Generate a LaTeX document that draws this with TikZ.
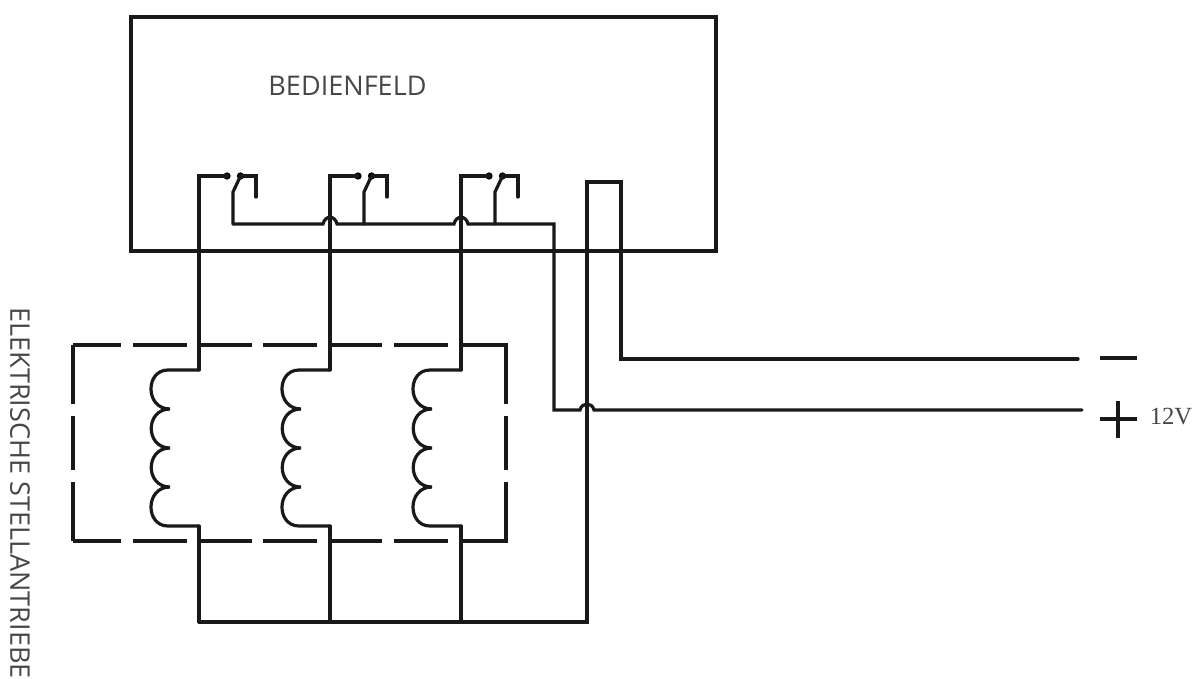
\documentclass[tikz,border=0pt]{standalone}
\usepackage{fontspec}
\setmainfont{Open Sans}
\newfontfamily\serifv{Liberation Serif}
\tikzset{
  x=0.75pt,y=-0.75pt,
  wire/.style={line width=2.4pt,black!90,line cap=round,line join=miter},
  contact/.style={circle,fill=black,inner sep=0pt,minimum size=5.5pt},
  label/.style={font=\fontsize{20.3pt}{22pt}\selectfont,text=black!72,inner sep=0pt},
}
\begin{document}
\begin{tikzpicture}
\useasboundingbox (0,0) rectangle (1201,678);
% panel
\coordinate (pTL) at (131,17);
\coordinate (pBR) at (716,251);
\draw[wire] (pTL) rectangle (pBR);
\node[label,anchor=center] (panel) at (347.5,86) {BEDIENFELD};
% switches and their feeds
\foreach \n/\x in {a/199,b/330,c/461}{
  \coordinate (top\n) at (\x,176);
  \coordinate (mid\n) at (\x,345);
  \coordinate (coilT\n) at (\x,370);
  \coordinate (coilB\n) at (\x,526);
  \coordinate (dash\n) at (\x,541);
  \coordinate (bus\n) at (\x,622);
  \node[contact] (dl\n) at (\x+28,176) {};
  \node[contact] (dr\n) at (\x+41.5,176) {};
  \coordinate (nc\n) at (\x+57,176);
  \coordinate (nce\n) at (\x+57,197);
  \coordinate (bl\n) at (\x+34,192);
  \coordinate (blb\n) at (\x+34,224);
  \draw[wire] (coilT\n) -- (mid\n) -- (top\n) -- (dl\n.center);
  \draw[wire] (dr\n.center) -- (nc\n) -- (nce\n);
  \draw[wire] (dr\n.center) -- (bl\n) -- (blb\n);
  \draw[wire] (coilB\n) -- (dash\n) -- (bus\n);
  % coil
  \draw[wire] (coilT\n) -- (\x-31,370)
    .. controls (\x-54,370) and (\x-54,409) .. (\x-29,409)
    .. controls (\x-54,409) and (\x-54,448) .. (\x-29,448)
    .. controls (\x-54,448) and (\x-54,487) .. (\x-29,487)
    .. controls (\x-54,487) and (\x-54,526) .. (\x-31,526)
    -- (coilB\n);
}
% common line with hops
\coordinate (cTurn) at (554,224);
\coordinate (cDown) at (554,410);
\coordinate (plusEnd) at (1082,410);
\draw[wire] (blba) -- (323,224) .. controls (325,215) and (335,215) .. (337,224)
  -- (454,224) .. controls (456,215) and (466,215) .. (468,224)
  -- (cTurn) -- (cDown) -- (580,410) .. controls (582,402) and (592,402) .. (594,410)
  -- (plusEnd);
% return loop
\coordinate (rA) at (587,622);
\coordinate (rB) at (587,182);
\coordinate (rC) at (621,182);
\coordinate (rD) at (621,359);
\coordinate (minusEnd) at (1078,359);
\draw[wire] (busa) -- (rA) -- (rB) -- (rC) -- (rD) -- (minusEnd);
% dashed enclosure
\foreach \a/\b in {121/73,187/133,252/199,317/263,382/330,448/394}{
  \coordinate (tA) at (\a,345); \coordinate (tB) at (\b,345);
  \coordinate (uA) at (\a,541); \coordinate (uB) at (\b,541);
  \draw[wire,line cap=butt] (tA) -- (tB);
  \draw[wire,line cap=butt] (uA) -- (uB);
}
\coordinate (tR) at (506,345);
\coordinate (uR) at (506,541);
\coordinate (tL) at (73,345);
\coordinate (uL) at (73,541);
\draw[wire,line cap=butt] (midc) -- (tR) -- (506,404);
\draw[wire,line cap=butt] (dashc) -- (uR) -- (506,482);
\draw[wire,line cap=butt] (506,416) -- (506,470);
\draw[wire,line cap=butt] (tL) -- (73,404);
\draw[wire,line cap=butt] (uL) -- (73,482);
\draw[wire,line cap=butt] (73,416) -- (73,470);
% supply symbols
\coordinate (mA) at (1100,358); \coordinate (mB) at (1137,358);
\draw[wire,line cap=butt] (mA) -- (mB);
\coordinate (plA) at (1100,419); \coordinate (plB) at (1137,419);
\coordinate (plC) at (1118,401); \coordinate (plD) at (1118,438);
\draw[wire,line cap=butt] (plA) -- (plB);
\draw[wire,line cap=butt] (plC) -- (plD);
\node[font=\serifv\fontsize{18.5pt}{20pt}\selectfont,text=black!72,inner sep=0pt] (volt) at (1171,417) {12V};
\node[label,rotate=-90,anchor=west] (drives) at (20,307) {ELEKTRISCHE STELLANTRIEBE};
\end{tikzpicture}
\end{document}
